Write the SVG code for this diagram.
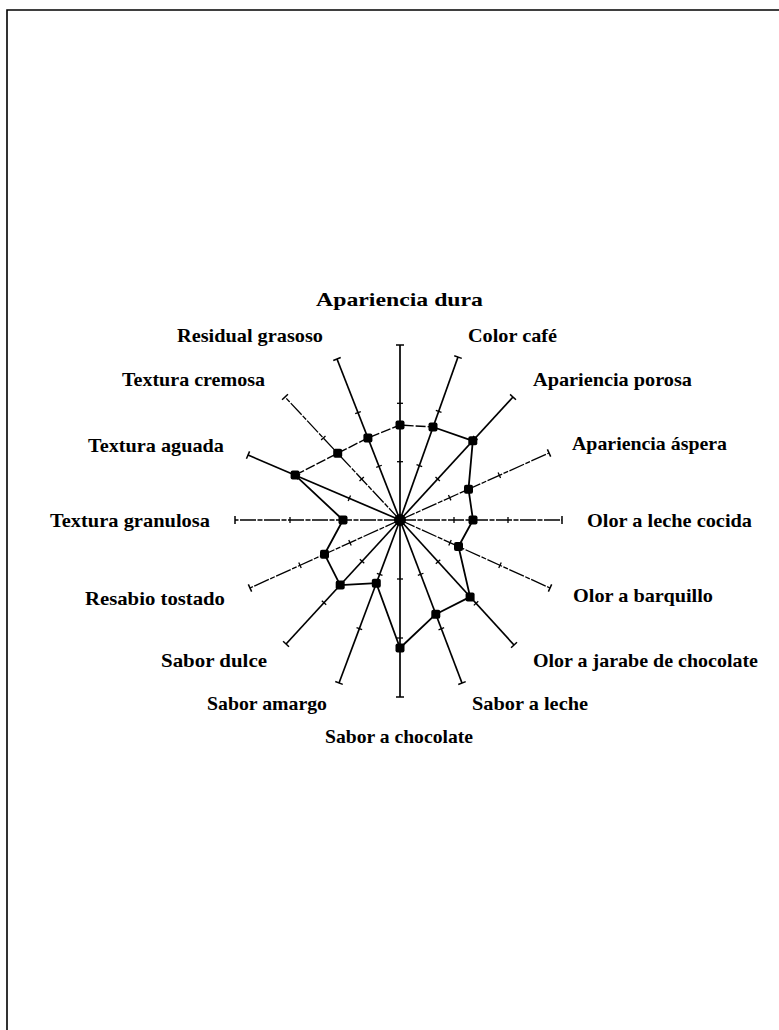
<svg xmlns="http://www.w3.org/2000/svg" width="779" height="1030" viewBox="0 0 779 1030">
  <style>
    .frame { fill: none; stroke: #000; stroke-width: 1.6; }
    .axis { stroke: #000; stroke-width: 1.7; fill: none; }
    .axis.light { stroke-width: 1.3; stroke-dasharray: 16 1.5 5 1.5; }
    .tick { stroke: #000; stroke-width: 1.3; }
    .cap { stroke: #000; stroke-width: 1.5; }
    .lbl { font-family: "Liberation Serif", "Times New Roman", serif; font-weight: bold; font-size: 19px; fill: #000; }
    .series { fill: none; stroke: #000; stroke-width: 1.8; stroke-linejoin: round; }
    .series.light { stroke-width: 1.4; stroke-dasharray: 10 2; }
    .pt { fill: #000; }
  </style>

  <rect width="779" height="1030" fill="#fff"/>
  <!-- page frame: top and left rules -->
  <path class="frame" d="M7 1030 V10 H779"/>

  <!-- axes: each drawn upward from the centre, then rotated into place -->
  <g id="axes">
    <g id="ax-apariencia-dura" transform="rotate(0 400 520)">
      <line class="axis" x1="400" y1="520" x2="400" y2="345"/>
      <line class="tick" x1="397" y1="461.7" x2="403" y2="461.7"/>
      <line class="tick" x1="397" y1="403.3" x2="403" y2="403.3"/>
      <line class="cap" x1="396" y1="345" x2="404" y2="345"/>
    </g>
    <g id="ax-color-cafe" transform="rotate(19.59 400 520)">
      <line class="axis" x1="400" y1="520" x2="400" y2="347"/>
      <line class="tick" x1="397" y1="462.3" x2="403" y2="462.3"/>
      <line class="tick" x1="397" y1="404.7" x2="403" y2="404.7"/>
      <line class="cap" x1="396" y1="347" x2="404" y2="347"/>
    </g>
    <g id="ax-apariencia-porosa" transform="rotate(42.58 400 520)">
      <line class="axis" x1="400" y1="520" x2="400" y2="353"/>
      <line class="tick" x1="397" y1="464.3" x2="403" y2="464.3"/>
      <line class="tick" x1="397" y1="408.7" x2="403" y2="408.7"/>
      <line class="cap" x1="396" y1="353" x2="404" y2="353"/>
    </g>
    <g id="ax-apariencia-aspera" transform="rotate(65.79 400 520)">
      <line class="axis light" x1="400" y1="520" x2="400" y2="356.6"/>
      <line class="tick" x1="397" y1="465.5" x2="403" y2="465.5"/>
      <line class="tick" x1="397" y1="411.1" x2="403" y2="411.1"/>
      <line class="cap" x1="396" y1="356.6" x2="404" y2="356.6"/>
    </g>
    <g id="ax-olor-leche-cocida" transform="rotate(90 400 520)">
      <line class="axis light" x1="400" y1="520" x2="400" y2="358"/>
      <line class="tick" x1="397" y1="466" x2="403" y2="466"/>
      <line class="tick" x1="397" y1="412" x2="403" y2="412"/>
      <line class="cap" x1="396" y1="358" x2="404" y2="358"/>
    </g>
    <g id="ax-olor-barquillo" transform="rotate(114.38 400 520)">
      <line class="axis light" x1="400" y1="520" x2="400" y2="355.3"/>
      <line class="tick" x1="397" y1="465.1" x2="403" y2="465.1"/>
      <line class="tick" x1="397" y1="410.2" x2="403" y2="410.2"/>
      <line class="cap" x1="396" y1="355.3" x2="404" y2="355.3"/>
    </g>
    <g id="ax-olor-jarabe" transform="rotate(137.63 400 520)">
      <line class="axis" x1="400" y1="520" x2="400" y2="350.8"/>
      <line class="tick" x1="397" y1="463.6" x2="403" y2="463.6"/>
      <line class="tick" x1="397" y1="407.2" x2="403" y2="407.2"/>
      <line class="cap" x1="396" y1="350.8" x2="404" y2="350.8"/>
    </g>
    <g id="ax-sabor-leche" transform="rotate(159.18 400 520)">
      <line class="axis" x1="400" y1="520" x2="400" y2="345.6"/>
      <line class="tick" x1="397" y1="461.9" x2="403" y2="461.9"/>
      <line class="tick" x1="397" y1="403.7" x2="403" y2="403.7"/>
      <line class="cap" x1="396" y1="345.6" x2="404" y2="345.6"/>
    </g>
    <g id="ax-sabor-chocolate" transform="rotate(180 400 520)">
      <line class="axis" x1="400" y1="520" x2="400" y2="343"/>
      <line class="tick" x1="397" y1="461" x2="403" y2="461"/>
      <line class="tick" x1="397" y1="402" x2="403" y2="402"/>
      <line class="cap" x1="396" y1="343" x2="404" y2="343"/>
    </g>
    <g id="ax-sabor-amargo" transform="rotate(200.52 400 520)">
      <line class="axis" x1="400" y1="520" x2="400" y2="346"/>
      <line class="tick" x1="397" y1="462" x2="403" y2="462"/>
      <line class="tick" x1="397" y1="404" x2="403" y2="404"/>
      <line class="cap" x1="396" y1="346" x2="404" y2="346"/>
    </g>
    <g id="ax-sabor-dulce" transform="rotate(222.59 400 520)">
      <line class="axis" x1="400" y1="520" x2="400" y2="351.6"/>
      <line class="tick" x1="397" y1="463.9" x2="403" y2="463.9"/>
      <line class="tick" x1="397" y1="407.7" x2="403" y2="407.7"/>
      <line class="cap" x1="396" y1="351.6" x2="404" y2="351.6"/>
    </g>
    <g id="ax-resabio-tostado" transform="rotate(245.62 400 520)">
      <line class="axis light" x1="400" y1="520" x2="400" y2="355.3"/>
      <line class="tick" x1="397" y1="465.1" x2="403" y2="465.1"/>
      <line class="tick" x1="397" y1="410.2" x2="403" y2="410.2"/>
      <line class="cap" x1="396" y1="355.3" x2="404" y2="355.3"/>
    </g>
    <g id="ax-textura-granulosa" transform="rotate(270 400 520)">
      <line class="axis light" x1="400" y1="520" x2="400" y2="355"/>
      <line class="tick" x1="397" y1="465" x2="403" y2="465"/>
      <line class="tick" x1="397" y1="410" x2="403" y2="410"/>
      <line class="cap" x1="396" y1="355" x2="404" y2="355"/>
    </g>
    <g id="ax-textura-aguada" transform="rotate(293.15 400 520)">
      <line class="axis" x1="400" y1="520" x2="400" y2="354.7"/>
      <line class="tick" x1="397" y1="464.9" x2="403" y2="464.9"/>
      <line class="tick" x1="397" y1="409.8" x2="403" y2="409.8"/>
      <line class="cap" x1="396" y1="354.7" x2="404" y2="354.7"/>
    </g>
    <g id="ax-textura-cremosa" transform="rotate(316.93 400 520)">
      <line class="axis light" x1="400" y1="520" x2="400" y2="351.6"/>
      <line class="tick" x1="397" y1="463.9" x2="403" y2="463.9"/>
      <line class="tick" x1="397" y1="407.7" x2="403" y2="407.7"/>
      <line class="cap" x1="396" y1="351.6" x2="404" y2="351.6"/>
    </g>
    <g id="ax-residual-grasoso" transform="rotate(338.63 400 520)">
      <line class="axis" x1="400" y1="520" x2="400" y2="347.1"/>
      <line class="tick" x1="397" y1="462.4" x2="403" y2="462.4"/>
      <line class="tick" x1="397" y1="404.7" x2="403" y2="404.7"/>
      <line class="cap" x1="396" y1="347.1" x2="404" y2="347.1"/>
    </g>
  </g>

  <!-- attribute labels -->
  <g id="labels">
    <text id="lbl-apariencia-dura" class="lbl" x="316" y="306" textLength="167" lengthAdjust="spacingAndGlyphs">Apariencia dura</text>
    <text id="lbl-color-cafe" class="lbl" x="468" y="342" textLength="89" lengthAdjust="spacingAndGlyphs">Color café</text>
    <text id="lbl-apariencia-porosa" class="lbl" x="533" y="386" textLength="159" lengthAdjust="spacingAndGlyphs">Apariencia porosa</text>
    <text id="lbl-apariencia-aspera" class="lbl" x="572" y="450" textLength="155" lengthAdjust="spacingAndGlyphs">Apariencia áspera</text>
    <text id="lbl-olor-leche-cocida" class="lbl" x="587" y="527" textLength="165" lengthAdjust="spacingAndGlyphs">Olor a leche cocida</text>
    <text id="lbl-olor-barquillo" class="lbl" x="573" y="602" textLength="140" lengthAdjust="spacingAndGlyphs">Olor a barquillo</text>
    <text id="lbl-olor-jarabe" class="lbl" x="533" y="667" textLength="225" lengthAdjust="spacingAndGlyphs">Olor a jarabe de chocolate</text>
    <text id="lbl-sabor-leche" class="lbl" x="472" y="710" textLength="116" lengthAdjust="spacingAndGlyphs">Sabor a leche</text>
    <text id="lbl-sabor-chocolate" class="lbl" x="325" y="743" textLength="148" lengthAdjust="spacingAndGlyphs">Sabor a chocolate</text>
    <text id="lbl-sabor-amargo" class="lbl" x="207" y="710" textLength="120" lengthAdjust="spacingAndGlyphs">Sabor amargo</text>
    <text id="lbl-sabor-dulce" class="lbl" x="161" y="667" textLength="106" lengthAdjust="spacingAndGlyphs">Sabor dulce</text>
    <text id="lbl-resabio-tostado" class="lbl" x="85" y="605" textLength="140" lengthAdjust="spacingAndGlyphs">Resabio tostado</text>
    <text id="lbl-textura-granulosa" class="lbl" x="50" y="527" textLength="160" lengthAdjust="spacingAndGlyphs">Textura granulosa</text>
    <text id="lbl-textura-aguada" class="lbl" x="88" y="452" textLength="136" lengthAdjust="spacingAndGlyphs">Textura aguada</text>
    <text id="lbl-textura-cremosa" class="lbl" x="122" y="386" textLength="143" lengthAdjust="spacingAndGlyphs">Textura cremosa</text>
    <text id="lbl-residual-grasoso" class="lbl" x="177" y="342" textLength="146" lengthAdjust="spacingAndGlyphs">Residual grasoso</text>
  </g>

  <!-- profile polygon joining the mean scores -->
  <g id="connectors">
    <polyline class="series" points="433,427 472.8,440.8 468.5,489.2 473,520 458.5,546.5 470.1,596.9 435.8,614.2 400,648 376.3,583.2 340.2,585.1 324.5,554.2 343,520 295.1,475.1"/>
    <polyline class="series light" points="295.1,475.1 337.7,453.3 367.9,437.9 400,425 433,427"/>
  </g>

  <!-- score markers -->
  <g id="points">
    <rect class="pt" x="395.5" y="420.5" width="9" height="9" rx="2"/>
    <rect class="pt" x="428.5" y="422.5" width="9" height="9" rx="2"/>
    <rect class="pt" x="468.3" y="436.3" width="9" height="9" rx="2"/>
    <rect class="pt" x="464" y="484.7" width="9" height="9" rx="2"/>
    <rect class="pt" x="468.5" y="515.5" width="9" height="9" rx="2"/>
    <rect class="pt" x="454" y="542" width="9" height="9" rx="2"/>
    <rect class="pt" x="465.6" y="592.4" width="9" height="9" rx="2"/>
    <rect class="pt" x="431.3" y="609.7" width="9" height="9" rx="2"/>
    <rect class="pt" x="395.5" y="643.5" width="9" height="9" rx="2"/>
    <rect class="pt" x="371.8" y="578.7" width="9" height="9" rx="2"/>
    <rect class="pt" x="335.7" y="580.6" width="9" height="9" rx="2"/>
    <rect class="pt" x="320" y="549.7" width="9" height="9" rx="2"/>
    <rect class="pt" x="338.5" y="515.5" width="9" height="9" rx="2"/>
    <rect class="pt" x="290.6" y="470.6" width="9" height="9" rx="2"/>
    <rect class="pt" x="333.2" y="448.8" width="9" height="9" rx="2"/>
    <rect class="pt" x="363.4" y="433.4" width="9" height="9" rx="2"/>
    <circle class="pt" cx="400" cy="520" r="6"/>
  </g>
</svg>
